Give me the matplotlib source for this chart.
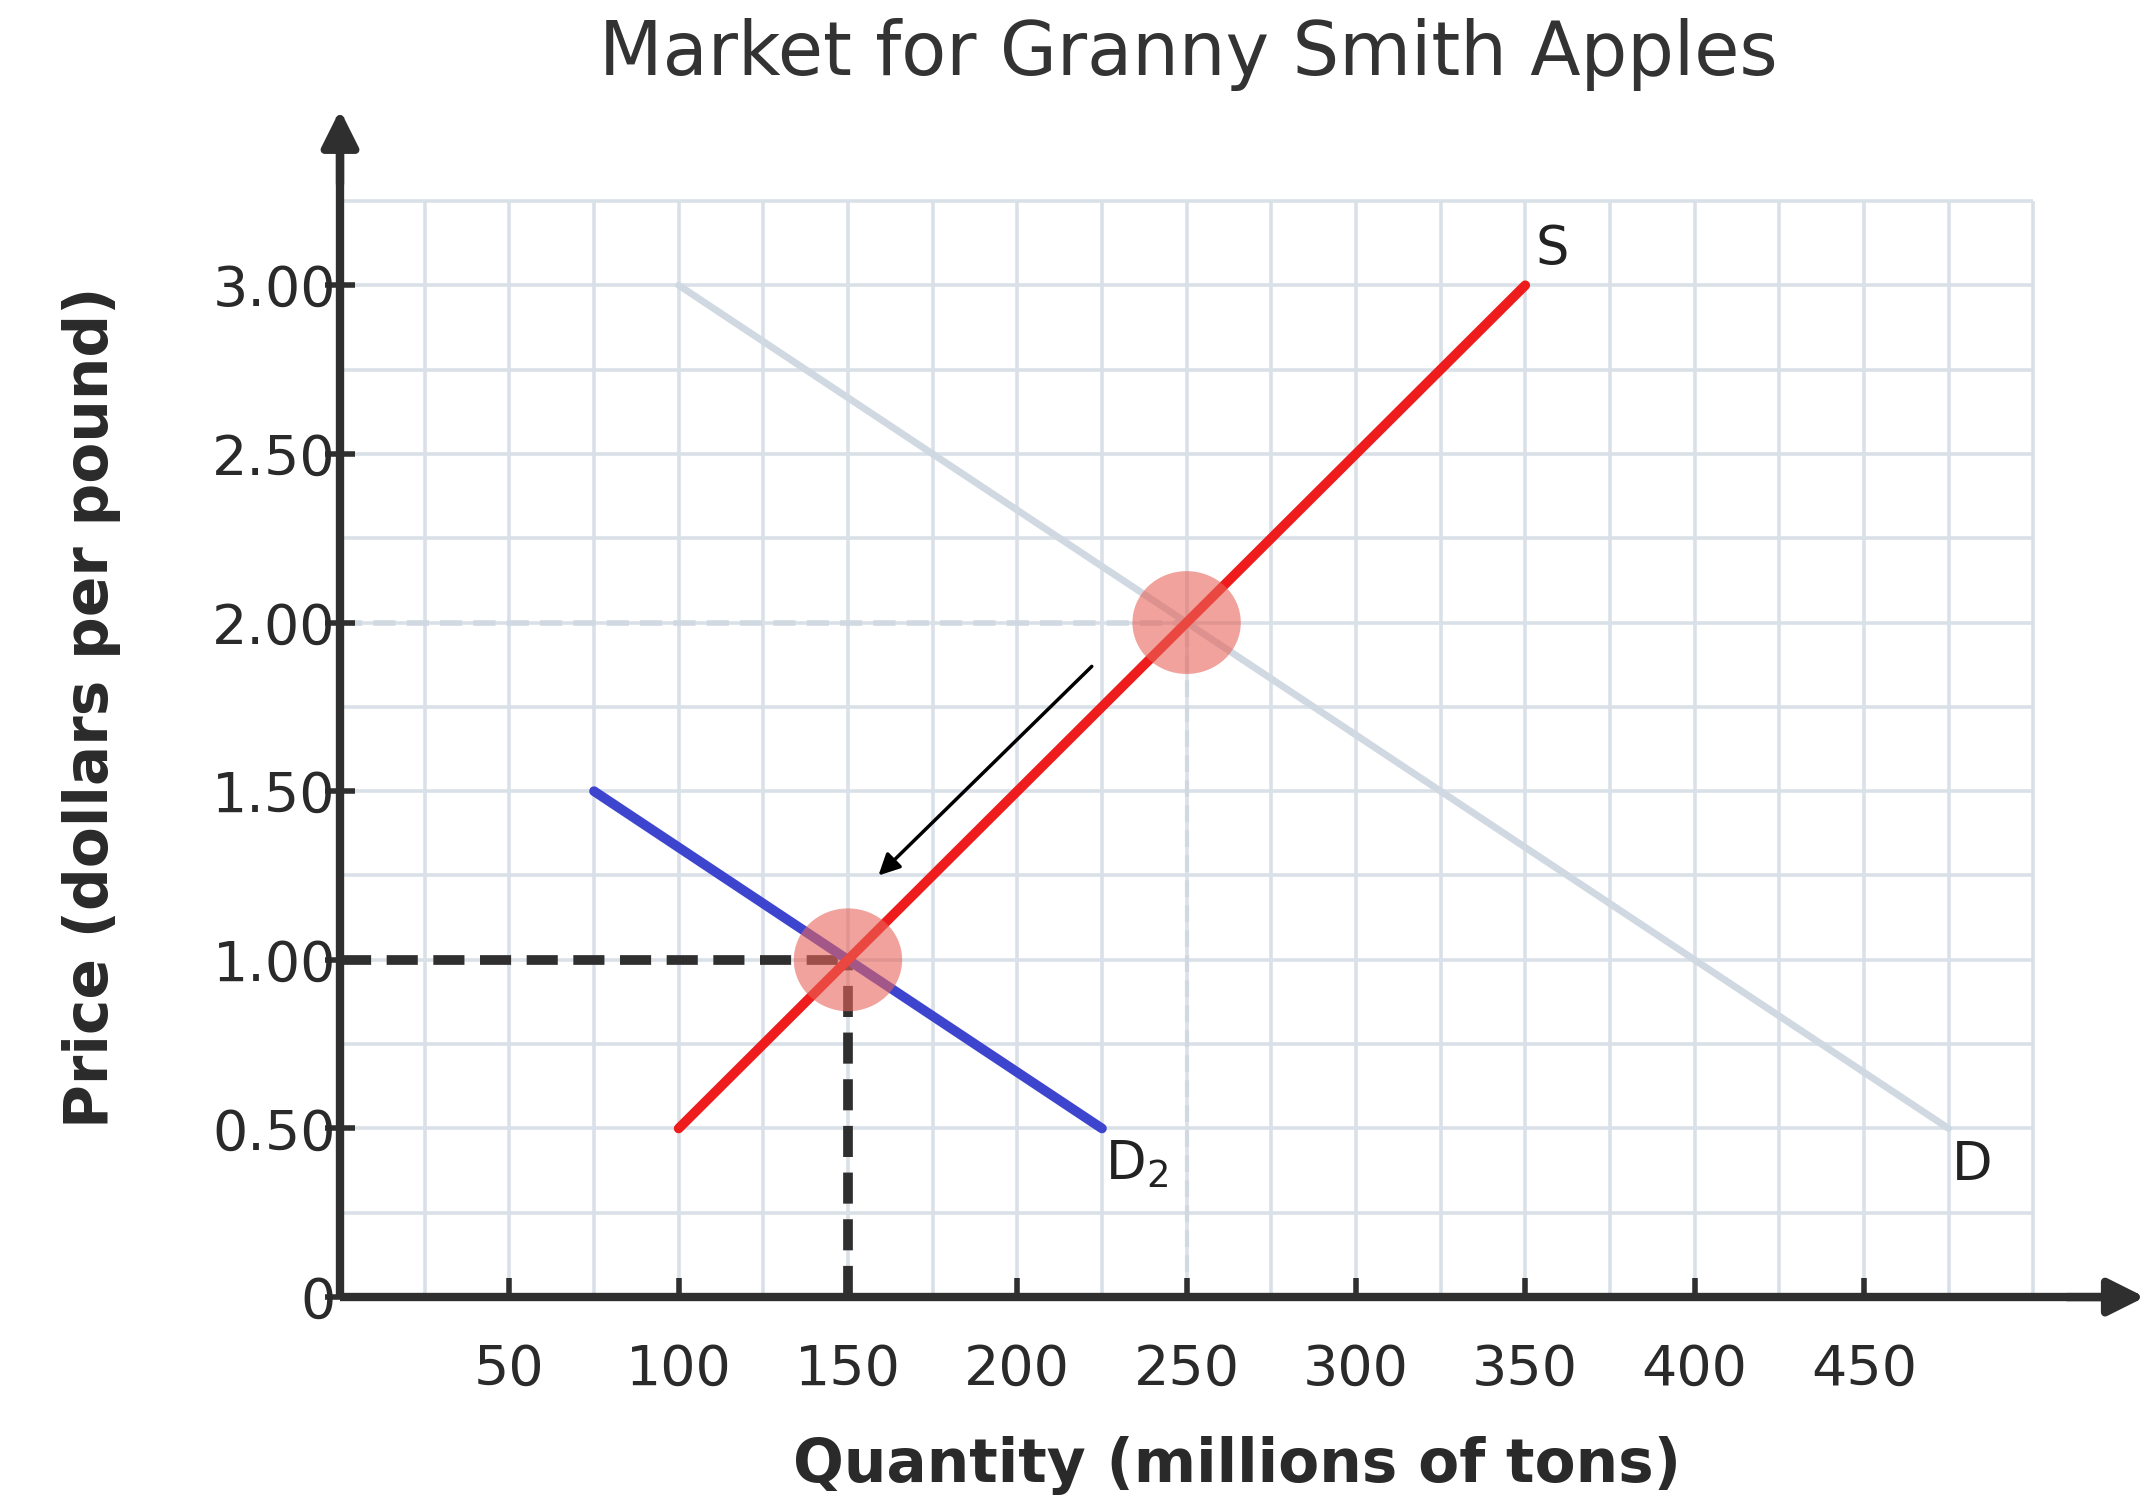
"""Supply and demand shift for the Granny Smith apple market."""

import matplotlib

matplotlib.use("Agg")
import matplotlib.pyplot as plt
from matplotlib.patches import Ellipse

# Data
supply_q = [100, 350]
supply_p = [0.50, 3.00]
demand_q = [100, 475]
demand_p = [3.00, 0.50]
demand2_q = [75, 225]
demand2_p = [1.50, 0.50]

old_eq_q, old_eq_p = 250, 2.00
new_eq_q, new_eq_p = 150, 1.00

shift_start = (222, 1.87)
shift_end = (159, 1.25)

x_ticks = [50, 100, 150, 200, 250, 300, 350, 400, 450]
y_ticks = [0, 0.5, 1.0, 1.5, 2.0, 2.5, 3.0]
y_tick_labels = ["0", "0.50", "1.00", "1.50", "2.00", "2.50", "3.00"]

grid_q = [25 * i for i in range(1, 21)]
grid_p = [0.25 * i for i in range(1, 14)]

AXIS_COLOR = "#2f2f2f"
GRID_COLOR = "#d9e0e8"
OLD_DEMAND_COLOR = "#d0d9e2"

plt.rcParams["font.family"] = ["DejaVu Sans"]

fig = plt.figure(figsize=(21.52, 15.07), dpi=100)
axis = fig.add_axes([0.158, 0.1393, 0.834, 0.7833])
axis.set_axisbelow(False)

x_max, y_max = 530, 3.5
axis.set_xlim(0, x_max)
axis.set_ylim(0, y_max)

# Background grid
axis.vlines(grid_q, 0, grid_p[-1], color=GRID_COLOR, linewidth=2.6, zorder=1)
axis.hlines(grid_p, 0, grid_q[-1], color=GRID_COLOR, linewidth=2.6, zorder=1)

# Original equilibrium guides (faint)
axis.plot([0, old_eq_q], [old_eq_p, old_eq_p], color=OLD_DEMAND_COLOR,
          linewidth=4, dashes=(4, 2), zorder=2)
axis.plot([old_eq_q, old_eq_q], [0, old_eq_p], color=OLD_DEMAND_COLOR,
          linewidth=3, dashes=(4, 2), zorder=2)

# Curves
axis.plot(demand_q, demand_p, color=OLD_DEMAND_COLOR, linewidth=5,
          solid_capstyle="round", zorder=3)
axis.plot(demand2_q, demand2_p, color="#3d45cf", linewidth=7,
          solid_capstyle="round", zorder=4)
axis.plot(supply_q, supply_p, color="#ee1c1c", linewidth=7,
          solid_capstyle="round", zorder=5)

# New equilibrium guides
axis.plot([0, new_eq_q], [new_eq_p, new_eq_p], color=AXIS_COLOR,
          linewidth=7, dashes=(3.2, 1.6), zorder=3)
axis.plot([new_eq_q, new_eq_q], [0, new_eq_p], color=AXIS_COLOR,
          linewidth=7, dashes=(3.2, 1.6), zorder=3)

# Equilibrium highlights
for q, p in [(old_eq_q, old_eq_p), (new_eq_q, new_eq_p)]:
    axis.add_patch(Ellipse((q, p), 32, 0.305, facecolor="#e8645a",
                           alpha=0.6, edgecolor="none", zorder=6))

# Shift arrow
axis.annotate("", xy=shift_end, xytext=shift_start,
              arrowprops=dict(arrowstyle="-|>", color="black", lw=2.5,
                              mutation_scale=32, shrinkA=0, shrinkB=0),
              zorder=7)

# Curve labels
axis.text(supply_q[-1] + 3, supply_p[-1] + 0.03, "S", fontsize=38,
          color="#222222", ha="left", va="bottom")
axis.text(demand2_q[-1] + 1, demand2_p[-1] - 0.03, "D$_2$", fontsize=38,
          color="#222222", ha="left", va="top")
axis.text(demand_q[-1] + 1, demand_p[-1] - 0.03, "D", fontsize=38,
          color="#222222", ha="left", va="top")

# Axes styling
for side in ["top", "right"]:
    axis.spines[side].set_visible(False)
for side in ["left", "bottom"]:
    axis.spines[side].set_color(AXIS_COLOR)
    axis.spines[side].set_linewidth(6)
    axis.spines[side].set_capstyle("butt")

axis.annotate("", xy=(x_max + 3, 0), xytext=(x_max - 20, 0),
              arrowprops=dict(arrowstyle="-|>", color=AXIS_COLOR, lw=6,
                              mutation_scale=55, shrinkA=0, shrinkB=0),
              annotation_clip=False, zorder=8)
axis.annotate("", xy=(0, y_max + 0.02), xytext=(0, y_max - 0.2),
              arrowprops=dict(arrowstyle="-|>", color=AXIS_COLOR, lw=6,
                              mutation_scale=55, shrinkA=0, shrinkB=0),
              annotation_clip=False, zorder=8)

axis.set_xticks(x_ticks)
axis.set_xticklabels([str(v) for v in x_ticks])
axis.set_yticks(y_ticks)
axis.set_yticklabels(y_tick_labels)
axis.tick_params(axis="x", direction="in", length=14, width=4,
                 color=AXIS_COLOR, labelsize=40, labelcolor="#2a2a2a", pad=33)
axis.tick_params(axis="y", direction="inout", length=22, width=4,
                 color=AXIS_COLOR, labelsize=40, labelcolor="#2a2a2a", pad=-8)

axis.set_xlabel("Quantity (millions of tons)", fontsize=43, fontweight="bold",
                color="#2a2a2a", labelpad=28)
axis.set_ylabel("Price (dollars per pound)", fontsize=43, fontweight="bold",
                color="#2a2a2a", labelpad=66)

fig.text(0.552, 0.9636, "Market for Granny Smith Apples", fontsize=53,
         color="#333333", ha="center", va="center")

fig.savefig("out.png", dpi=100, facecolor="white")
